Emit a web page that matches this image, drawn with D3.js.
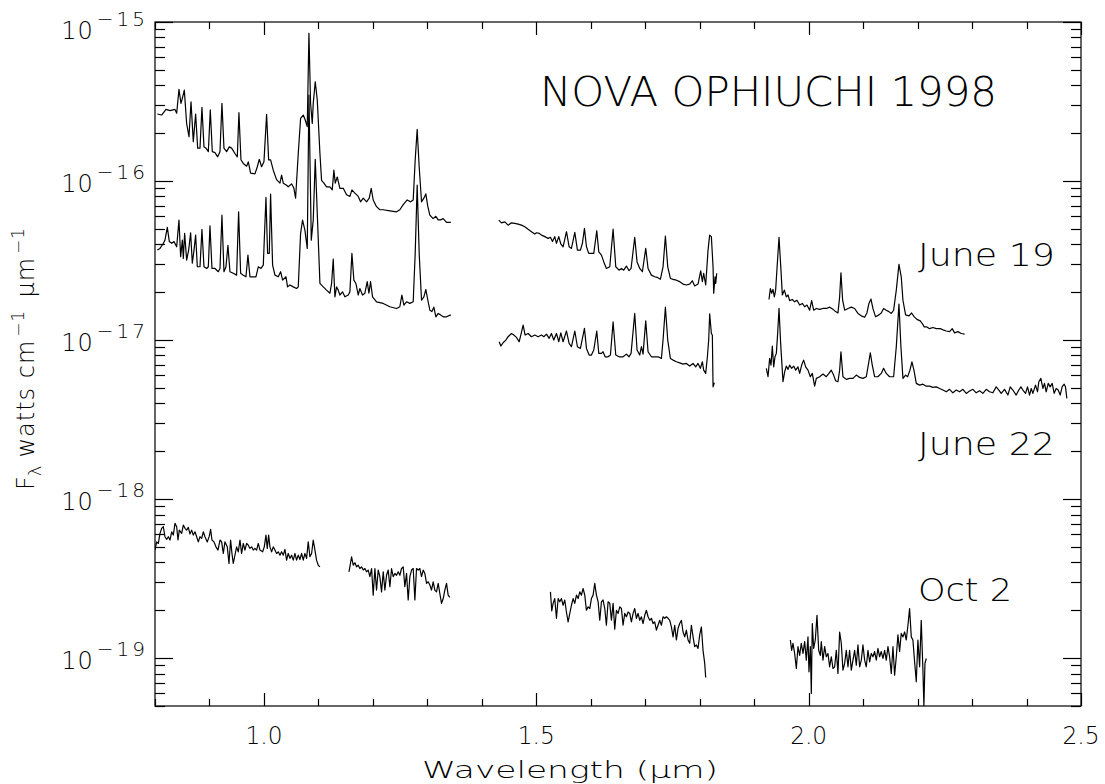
<!DOCTYPE html>
<html><head><meta charset="utf-8">
<script src="https://cdn.jsdelivr.net/npm/d3@7"></script>
<style>
body{margin:0;background:#fff;}
svg{display:block;background:#fff;}
text{font-family:"DejaVu Sans","Liberation Sans",sans-serif;font-weight:200;fill:#000;}
</style></head><body>
<svg id="chart" width="1105" height="784"></svg>
<script>
// ---------------- data (wavelength in micron, F_lambda in W cm^-1 um^-1) ----------------
const titleText = "NOVA OPHIUCHI 1998";
const epochLabels = ["June 19", "June 22", "Oct 2"];
const xTickValues = [1.0, 1.5, 2.0, 2.5];
const xTickLabels = ["1.0", "1.5", "2.0", "2.5"];
const yTickExponents = [-19, -18, -17, -16, -15];
const xDomain = [0.8, 2.5];
const yDomain = [5e-20, 1e-15];

const june19_J = [[0.8043,2.64e-16],[0.8122,2.60e-16],[0.8202,2.82e-16],[0.8275,2.77e-16],[0.8367,2.82e-16],[0.8398,2.67e-16],[0.8440,3.77e-16],[0.8477,3.08e-16],[0.8502,3.31e-16],[0.8538,3.73e-16],[0.8581,2.30e-16],[0.8624,1.90e-16],[0.8661,3.15e-16],[0.8703,1.77e-16],[0.8746,2.64e-16],[0.8783,1.61e-16],[0.8826,1.61e-16],[0.8862,2.91e-16],[0.8899,1.64e-16],[0.8936,1.61e-16],[0.8979,1.53e-16],[0.9015,2.80e-16],[0.9052,1.53e-16],[0.9101,1.51e-16],[0.9150,1.42e-16],[0.9193,1.53e-16],[0.9229,3.08e-16],[0.9266,1.61e-16],[0.9315,1.53e-16],[0.9364,1.64e-16],[0.9407,1.61e-16],[0.9468,1.49e-16],[0.9511,1.42e-16],[0.9541,2.69e-16],[0.9578,1.36e-16],[0.9621,1.29e-16],[0.9682,1.24e-16],[0.9713,1.32e-16],[0.9755,1.12e-16],[0.9835,1.11e-16],[0.9878,1.23e-16],[0.9914,1.37e-16],[0.9957,1.23e-16],[1.0000,1.32e-16],[1.0049,2.63e-16],[1.0086,1.36e-16],[1.0122,1.36e-16],[1.0171,1.17e-16],[1.0232,1.02e-16],[1.0294,9.7e-17],[1.0324,1.09e-16],[1.0355,9.7e-17],[1.0416,9.4e-17],[1.0446,9.2e-17],[1.0508,9.6e-17],[1.0550,9.0e-17],[1.0581,7.8e-17],[1.0630,1.49e-16],[1.0673,2.48e-16],[1.0722,2.60e-16],[1.0758,2.42e-16],[1.0795,2.20e-16],[1.0826,8.5e-16],[1.0856,3.08e-16],[1.0887,2.30e-16],[1.0905,3.08e-16],[1.0942,4.21e-16],[1.0979,3.23e-16],[1.1028,1.49e-16],[1.1058,1.01e-16],[1.1101,9.7e-17],[1.1150,9.2e-17],[1.1211,9.2e-17],[1.1254,8.8e-17],[1.1284,1.17e-16],[1.1309,9.7e-17],[1.1346,1.06e-16],[1.1394,9.0e-17],[1.1456,9.0e-17],[1.1517,8.2e-17],[1.1578,8.0e-17],[1.1615,8.8e-17],[1.1670,8.4e-17],[1.1731,8.0e-17],[1.1774,7.4e-17],[1.1823,7.8e-17],[1.1884,7.4e-17],[1.1933,7.8e-17],[1.1969,9.0e-17],[1.2006,7.6e-17],[1.2067,6.9e-17],[1.2128,6.6e-17],[1.2190,6.6e-17],[1.2312,6.5e-17],[1.2434,6.4e-17],[1.2495,6.6e-17],[1.2557,7.1e-17],[1.2630,7.6e-17],[1.2691,7.4e-17],[1.2740,7.6e-17],[1.2777,1.36e-16],[1.2813,2.11e-16],[1.2850,1.23e-16],[1.2893,7.4e-17],[1.2936,7.8e-17],[1.2972,8.3e-17],[1.3009,6.9e-17],[1.3046,6.1e-17],[1.3107,5.8e-17],[1.3156,6.0e-17],[1.3199,5.7e-17],[1.3242,5.7e-17],[1.3291,5.8e-17],[1.3352,5.5e-17],[1.3431,5.5e-17]];

const june19_H = [[1.4312,5.68e-17],[1.4361,5.46e-17],[1.4422,5.54e-17],[1.4483,5.28e-17],[1.4544,5.46e-17],[1.4606,5.41e-17],[1.4667,5.36e-17],[1.4728,5.28e-17],[1.4789,5.16e-17],[1.4850,4.97e-17],[1.4911,4.80e-17],[1.4973,4.64e-17],[1.5003,4.73e-17],[1.5052,4.69e-17],[1.5095,4.57e-17],[1.5156,4.47e-17],[1.5217,4.36e-17],[1.5260,4.43e-17],[1.5297,4.16e-17],[1.5339,4.47e-17],[1.5370,4.06e-17],[1.5413,4.47e-17],[1.5450,4.02e-17],[1.5492,3.86e-17],[1.5554,4.80e-17],[1.5603,3.86e-17],[1.5645,3.77e-17],[1.5707,4.76e-17],[1.5755,3.68e-17],[1.5810,3.68e-17],[1.5847,4.06e-17],[1.5884,5.04e-17],[1.5921,3.86e-17],[1.5963,3.51e-17],[1.6012,3.51e-17],[1.6055,3.51e-17],[1.6110,4.87e-17],[1.6147,3.59e-17],[1.6196,3.42e-17],[1.6239,3.10e-17],[1.6287,2.82e-17],[1.6349,2.89e-17],[1.6410,4.98e-17],[1.6459,2.89e-17],[1.6520,2.75e-17],[1.6563,2.82e-17],[1.6605,2.75e-17],[1.6654,2.92e-17],[1.6703,2.73e-17],[1.6740,2.82e-17],[1.6807,4.43e-17],[1.6850,3.10e-17],[1.6899,2.82e-17],[1.6948,2.69e-17],[1.7009,3.77e-17],[1.7052,2.82e-17],[1.7113,2.56e-17],[1.7174,2.50e-17],[1.7217,2.48e-17],[1.7278,2.41e-17],[1.7327,2.89e-17],[1.7370,4.51e-17],[1.7413,2.89e-17],[1.7462,2.44e-17],[1.7511,2.41e-17],[1.7572,2.38e-17],[1.7633,2.33e-17],[1.7694,2.25e-17],[1.7754,2.22e-17],[1.7816,2.25e-17],[1.7865,2.36e-17],[1.7908,2.19e-17],[1.7969,2.25e-17],[1.8018,2.72e-17],[1.8049,2.33e-17],[1.8073,2.63e-17],[1.8110,2.22e-17],[1.8153,3.68e-17],[1.8183,4.57e-17],[1.8214,4.47e-17],[1.8245,2.89e-17],[1.8257,1.97e-17],[1.8282,2.50e-17],[1.8294,2.27e-17],[1.8312,2.63e-17]];

const june19_K = [[1.9272,1.80e-17],[1.9297,2.11e-17],[1.9321,1.97e-17],[1.9346,2.08e-17],[1.9370,1.87e-17],[1.9394,2.06e-17],[1.9419,2.82e-17],[1.9456,4.43e-17],[1.9492,2.75e-17],[1.9517,1.92e-17],[1.9554,2.06e-17],[1.9590,1.87e-17],[1.9621,1.92e-17],[1.9651,1.77e-17],[1.9700,1.80e-17],[1.9743,1.74e-17],[1.9786,1.78e-17],[1.9835,1.66e-17],[1.9884,1.70e-17],[1.9927,1.62e-17],[1.9969,1.66e-17],[2.0018,1.54e-17],[2.0055,1.77e-17],[2.0092,1.54e-17],[2.0141,1.58e-17],[2.0202,1.56e-17],[2.0263,1.58e-17],[2.0324,1.58e-17],[2.0385,1.61e-17],[2.0447,1.56e-17],[2.0495,1.51e-17],[2.0538,1.48e-17],[2.0569,1.87e-17],[2.0593,2.65e-17],[2.0624,1.78e-17],[2.0661,1.54e-17],[2.0722,1.58e-17],[2.0783,1.61e-17],[2.0844,1.58e-17],[2.0905,1.47e-17],[2.0966,1.42e-17],[2.1028,1.39e-17],[2.1070,1.48e-17],[2.1107,1.70e-17],[2.1144,1.81e-17],[2.1180,1.58e-17],[2.1229,1.40e-17],[2.1291,1.44e-17],[2.1333,1.48e-17],[2.1376,1.58e-17],[2.1425,1.54e-17],[2.1474,1.51e-17],[2.1517,1.47e-17],[2.1560,1.54e-17],[2.1609,2.06e-17],[2.1658,2.99e-17],[2.1700,2.50e-17],[2.1731,1.78e-17],[2.1780,1.44e-17],[2.1841,1.42e-17],[2.1890,1.48e-17],[2.1939,1.40e-17],[2.1988,1.35e-17],[2.2049,1.32e-17],[2.2086,1.27e-17],[2.2122,1.21e-17],[2.2171,1.21e-17],[2.2220,1.18e-17],[2.2281,1.20e-17],[2.2343,1.18e-17],[2.2416,1.18e-17],[2.2465,1.16e-17],[2.2526,1.14e-17],[2.2587,1.13e-17],[2.2636,1.18e-17],[2.2679,1.11e-17],[2.2740,1.13e-17],[2.2801,1.10e-17],[2.2863,1.09e-17]];

const june22_J = [[0.8043,3.68e-17],[0.8092,3.77e-17],[0.8153,4.06e-17],[0.8183,4.25e-17],[0.8226,5.11e-17],[0.8263,4.16e-17],[0.8306,4.06e-17],[0.8349,4.16e-17],[0.8398,3.86e-17],[0.8440,5.68e-17],[0.8471,3.34e-17],[0.8502,4.25e-17],[0.8520,3.26e-17],[0.8544,4.69e-17],[0.8581,3.18e-17],[0.8618,3.68e-17],[0.8654,4.73e-17],[0.8685,3.04e-17],[0.8716,3.68e-17],[0.8746,4.57e-17],[0.8777,2.89e-17],[0.8826,2.89e-17],[0.8862,4.96e-17],[0.8899,2.89e-17],[0.8948,2.82e-17],[0.8979,2.89e-17],[0.9009,5.23e-17],[0.9046,2.82e-17],[0.9101,2.82e-17],[0.9162,2.69e-17],[0.9193,2.82e-17],[0.9229,6.10e-17],[0.9266,2.69e-17],[0.9303,2.89e-17],[0.9339,3.94e-17],[0.9376,2.69e-17],[0.9437,2.63e-17],[0.9498,2.56e-17],[0.9535,6.41e-17],[0.9572,2.63e-17],[0.9621,2.56e-17],[0.9670,2.50e-17],[0.9706,3.42e-17],[0.9743,2.50e-17],[0.9804,2.50e-17],[0.9853,2.50e-17],[0.9896,2.89e-17],[0.9945,2.82e-17],[0.9988,2.96e-17],[1.0037,7.89e-17],[1.0067,3.51e-17],[1.0098,3.51e-17],[1.0122,8.29e-17],[1.0159,2.96e-17],[1.0202,2.56e-17],[1.0263,2.50e-17],[1.0306,2.69e-17],[1.0343,2.38e-17],[1.0404,2.50e-17],[1.0434,2.16e-17],[1.0477,2.22e-17],[1.0538,2.16e-17],[1.0599,2.11e-17],[1.0630,2.16e-17],[1.0673,4.69e-17],[1.0709,5.68e-17],[1.0752,4.91e-17],[1.0795,3.77e-17],[1.0826,3.47e-16],[1.0869,4.25e-17],[1.0905,5.68e-17],[1.0942,1.37e-16],[1.0979,6.26e-17],[1.1028,2.27e-17],[1.1089,2.16e-17],[1.1150,2.06e-17],[1.1211,1.97e-17],[1.1242,2.27e-17],[1.1272,3.23e-17],[1.1303,1.87e-17],[1.1333,2.16e-17],[1.1364,2.06e-17],[1.1394,1.92e-17],[1.1443,2.01e-17],[1.1486,1.87e-17],[1.1547,1.92e-17],[1.1578,2.01e-17],[1.1615,3.51e-17],[1.1651,2.38e-17],[1.1688,2.27e-17],[1.1731,1.92e-17],[1.1761,2.11e-17],[1.1810,1.92e-17],[1.1853,1.97e-17],[1.1896,2.33e-17],[1.1927,1.97e-17],[1.1957,2.33e-17],[1.1994,1.87e-17],[1.2067,1.74e-17],[1.2190,1.70e-17],[1.2312,1.62e-17],[1.2434,1.58e-17],[1.2495,1.62e-17],[1.2532,1.92e-17],[1.2569,1.66e-17],[1.2618,1.74e-17],[1.2679,1.70e-17],[1.2740,1.74e-17],[1.2777,3.51e-17],[1.2813,9.42e-17],[1.2850,3.51e-17],[1.2893,1.78e-17],[1.2936,1.87e-17],[1.2972,2.08e-17],[1.3009,1.78e-17],[1.3046,1.54e-17],[1.3083,1.51e-17],[1.3119,1.61e-17],[1.3156,1.40e-17],[1.3199,1.47e-17],[1.3242,1.44e-17],[1.3291,1.40e-17],[1.3352,1.40e-17],[1.3431,1.44e-17]];

const june22_H = [[1.4318,9.76e-18],[1.4349,9.17e-18],[1.4390,9.62e-18],[1.4440,1.00e-17],[1.4483,1.05e-17],[1.4544,1.10e-17],[1.4587,1.075e-17],[1.4636,1.04e-17],[1.4685,9.76e-18],[1.4716,1.075e-17],[1.4758,1.24e-17],[1.4795,1.075e-17],[1.4850,1.10e-17],[1.4911,1.05e-17],[1.4973,1.075e-17],[1.5034,1.05e-17],[1.5095,1.075e-17],[1.5138,1.05e-17],[1.5187,1.09e-17],[1.5236,1.025e-17],[1.5278,1.10e-17],[1.5321,1.00e-17],[1.5370,1.10e-17],[1.5413,9.76e-18],[1.5450,1.11e-17],[1.5492,9.76e-18],[1.5554,1.14e-17],[1.5603,9.53e-18],[1.5645,9.08e-18],[1.5707,1.14e-17],[1.5755,9.08e-18],[1.5810,8.86e-18],[1.5884,1.185e-17],[1.5921,8.86e-18],[1.5970,8.05e-18],[1.6012,8.05e-18],[1.6055,8.65e-18],[1.6110,1.14e-17],[1.6147,8.25e-18],[1.6196,8.25e-18],[1.6226,8.44e-18],[1.6263,7.85e-18],[1.6318,7.85e-18],[1.6361,8.05e-18],[1.6410,1.30e-17],[1.6459,8.05e-18],[1.6520,7.85e-18],[1.6593,7.85e-18],[1.6654,8.16e-18],[1.6703,7.85e-18],[1.6740,8.25e-18],[1.6807,1.47e-17],[1.6850,8.65e-18],[1.6899,8.05e-18],[1.6930,9.08e-18],[1.6960,8.16e-18],[1.7009,1.32e-17],[1.7052,8.44e-18],[1.7113,7.85e-18],[1.7174,7.85e-18],[1.7236,7.85e-18],[1.7297,7.67e-18],[1.7327,1.00e-17],[1.7370,1.61e-17],[1.7413,1.00e-17],[1.7462,7.67e-18],[1.7511,7.48e-18],[1.7572,7.30e-18],[1.7633,7.19e-18],[1.7694,7.06e-18],[1.7754,7.13e-18],[1.7816,6.86e-18],[1.7878,7.13e-18],[1.7927,6.79e-18],[1.7969,7.13e-18],[1.8012,6.64e-18],[1.8049,7.30e-18],[1.8073,6.47e-18],[1.8110,6.17e-18],[1.8141,7.85e-18],[1.8165,1.00e-17],[1.8183,1.46e-17],[1.8214,1.10e-17],[1.8232,1.075e-17],[1.8245,5.08e-18],[1.8269,5.39e-18]];

const june22_K = [[1.9223,6.64e-18],[1.9254,5.88e-18],[1.9284,7.67e-18],[1.9309,6.96e-18],[1.9333,9.17e-18],[1.9358,6.79e-18],[1.9382,7.85e-18],[1.9407,8.25e-18],[1.9431,1.10e-17],[1.9456,1.58e-17],[1.9486,9.53e-18],[1.9529,5.47e-18],[1.9560,6.32e-18],[1.9590,6.86e-18],[1.9621,6.54e-18],[1.9651,6.96e-18],[1.9688,6.64e-18],[1.9725,6.86e-18],[1.9762,6.47e-18],[1.9804,6.79e-18],[1.9835,6.17e-18],[1.9872,6.96e-18],[1.9908,7.48e-18],[1.9945,6.79e-18],[1.9988,6.47e-18],[2.0031,5.88e-18],[2.0067,6.17e-18],[2.0110,5.13e-18],[2.0141,5.74e-18],[2.0202,5.88e-18],[2.0263,6.11e-18],[2.0324,5.88e-18],[2.0373,6.17e-18],[2.0415,6.47e-18],[2.0459,6.02e-18],[2.0495,5.55e-18],[2.0538,5.47e-18],[2.0569,6.47e-18],[2.0593,8.44e-18],[2.0630,5.88e-18],[2.0691,5.66e-18],[2.0752,5.74e-18],[2.0814,5.74e-18],[2.0875,6.02e-18],[2.0936,5.82e-18],[2.0997,5.74e-18],[2.1058,5.88e-18],[2.1095,6.96e-18],[2.1132,8.32e-18],[2.1168,6.96e-18],[2.1211,5.88e-18],[2.1272,5.88e-18],[2.1333,6.17e-18],[2.1376,6.64e-18],[2.1425,6.17e-18],[2.1486,5.88e-18],[2.1560,5.88e-18],[2.1609,9.08e-18],[2.1658,1.684e-17],[2.1694,9.08e-18],[2.1731,5.74e-18],[2.1780,6.02e-18],[2.1817,5.88e-18],[2.1860,6.47e-18],[2.1896,7.30e-18],[2.1933,6.47e-18],[2.1976,5.34e-18],[2.2037,5.21e-18],[2.2098,5.28e-18],[2.2159,5.13e-18],[2.2220,5.13e-18],[2.2281,5.04e-18],[2.2343,5.08e-18],[2.2404,4.96e-18],[2.2465,4.85e-18],[2.2526,4.73e-18],[2.2587,4.90e-18],[2.2648,4.66e-18],[2.2710,4.85e-18],[2.2771,4.73e-18],[2.2832,4.90e-18],[2.2893,4.62e-18],[2.2954,4.78e-18],[2.3015,4.90e-18],[2.3076,4.66e-18],[2.3138,4.80e-18],[2.3199,4.62e-18],[2.3260,4.90e-18],[2.3321,4.73e-18],[2.3382,4.66e-18],[2.3443,5.08e-18],[2.3492,4.85e-18],[2.3535,4.62e-18],[2.3596,4.90e-18],[2.3658,4.51e-18],[2.3700,5.08e-18],[2.3749,4.85e-18],[2.3810,4.51e-18],[2.3859,4.85e-18],[2.3896,5.08e-18],[2.3933,4.85e-18],[2.3982,4.62e-18],[2.4018,5.08e-18],[2.4055,4.51e-18],[2.4086,4.96e-18],[2.4116,4.62e-18],[2.4165,5.21e-18],[2.4202,4.73e-18],[2.4226,5.47e-18],[2.4263,5.74e-18],[2.4300,4.96e-18],[2.4330,5.34e-18],[2.4361,4.73e-18],[2.4398,5.34e-18],[2.4434,5.08e-18],[2.4471,5.34e-18],[2.4508,4.62e-18],[2.4544,4.96e-18],[2.4581,4.85e-18],[2.4618,4.51e-18],[2.4654,5.08e-18],[2.4691,5.28e-18],[2.4715,5.08e-18],[2.4740,4.30e-18]];

const oct2_a = [[0.8000,4.78e-19],[0.8031,5.38e-19],[0.8061,5.26e-19],[0.8092,6.09e-19],[0.8122,6.55e-19],[0.8153,6.70e-19],[0.8183,5.80e-19],[0.8214,5.58e-19],[0.8245,5.80e-19],[0.8275,5.53e-19],[0.8306,6.23e-19],[0.8336,5.94e-19],[0.8367,7.04e-19],[0.8398,6.70e-19],[0.8422,5.53e-19],[0.8446,6.38e-19],[0.8489,6.09e-19],[0.8520,6.87e-19],[0.8550,6.55e-19],[0.8581,6.38e-19],[0.8612,6.64e-19],[0.8642,6.03e-19],[0.8673,6.38e-19],[0.8703,5.94e-19],[0.8734,6.23e-19],[0.8765,5.80e-19],[0.8795,5.38e-19],[0.8826,5.80e-19],[0.8856,5.66e-19],[0.8887,6.23e-19],[0.8917,5.80e-19],[0.8960,5.38e-19],[0.8997,5.85e-19],[0.9021,6.45e-19],[0.9046,5.53e-19],[0.9083,5.38e-19],[0.9119,5.01e-19],[0.9156,4.78e-19],[0.9193,5.53e-19],[0.9223,5.38e-19],[0.9254,4.55e-19],[0.9284,5.38e-19],[0.9327,5.01e-19],[0.9358,3.94e-19],[0.9388,5.53e-19],[0.9413,4.55e-19],[0.9437,3.94e-19],[0.9462,4.34e-19],[0.9498,5.01e-19],[0.9529,4.66e-19],[0.9560,5.53e-19],[0.9590,4.55e-19],[0.9621,5.26e-19],[0.9651,4.78e-19],[0.9682,5.26e-19],[0.9713,5.13e-19],[0.9743,4.90e-19],[0.9774,5.01e-19],[0.9804,4.78e-19],[0.9835,4.90e-19],[0.9865,4.78e-19],[0.9896,5.26e-19],[0.9927,4.78e-19],[0.9976,4.66e-19],[1.0006,5.01e-19],[1.0037,5.94e-19],[1.0061,4.90e-19],[1.0086,5.94e-19],[1.0110,5.01e-19],[1.0141,4.66e-19],[1.0171,5.01e-19],[1.0202,4.78e-19],[1.0232,4.55e-19],[1.0263,4.66e-19],[1.0294,4.44e-19],[1.0324,4.66e-19],[1.0355,4.44e-19],[1.0385,4.83e-19],[1.0416,4.13e-19],[1.0446,4.55e-19],[1.0477,4.24e-19],[1.0508,4.44e-19],[1.0538,4.13e-19],[1.0569,4.55e-19],[1.0599,4.13e-19],[1.0630,4.44e-19],[1.0661,4.17e-19],[1.0691,4.55e-19],[1.0722,4.13e-19],[1.0752,4.55e-19],[1.0783,4.24e-19],[1.0813,5.38e-19],[1.0844,4.34e-19],[1.0875,4.55e-19],[1.0905,5.53e-19],[1.0936,4.78e-19],[1.0966,4.13e-19],[1.0997,3.84e-19],[1.1028,3.75e-19]];

const oct2_b = [[1.1560,3.49e-19],[1.1578,3.75e-19],[1.1609,4.34e-19],[1.1639,3.84e-19],[1.1670,3.98e-19],[1.1700,3.75e-19],[1.1731,3.84e-19],[1.1761,3.66e-19],[1.1792,3.75e-19],[1.1823,3.58e-19],[1.1853,3.66e-19],[1.1884,3.49e-19],[1.1914,3.58e-19],[1.1945,3.25e-19],[1.1976,3.66e-19],[1.2006,2.49e-19],[1.2037,3.66e-19],[1.2067,2.68e-19],[1.2098,3.58e-19],[1.2128,3.25e-19],[1.2159,2.61e-19],[1.2190,3.49e-19],[1.2220,2.68e-19],[1.2251,3.32e-19],[1.2281,3.58e-19],[1.2312,2.81e-19],[1.2343,3.66e-19],[1.2373,3.25e-19],[1.2404,3.41e-19],[1.2434,3.32e-19],[1.2465,3.49e-19],[1.2495,3.32e-19],[1.2526,3.66e-19],[1.2557,3.75e-19],[1.2587,2.81e-19],[1.2618,3.41e-19],[1.2648,2.32e-19],[1.2679,3.25e-19],[1.2710,3.58e-19],[1.2740,3.66e-19],[1.2771,2.32e-19],[1.2801,3.66e-19],[1.2832,3.58e-19],[1.2862,3.66e-19],[1.2893,3.25e-19],[1.2924,3.58e-19],[1.2954,3.41e-19],[1.2985,2.95e-19],[1.3015,3.02e-19],[1.3046,2.88e-19],[1.3076,2.68e-19],[1.3107,3.02e-19],[1.3138,2.68e-19],[1.3168,2.61e-19],[1.3199,2.95e-19],[1.3229,2.55e-19],[1.3260,2.21e-19],[1.3291,2.37e-19],[1.3321,2.68e-19],[1.3352,2.95e-19],[1.3382,2.49e-19],[1.3413,2.41e-19]];

const oct2_c = [[1.5260,2.61e-19],[1.5284,1.98e-19],[1.5309,2.21e-19],[1.5339,2.37e-19],[1.5370,1.78e-19],[1.5401,2.37e-19],[1.5431,2.26e-19],[1.5462,2.37e-19],[1.5492,2.15e-19],[1.5523,2.32e-19],[1.5553,1.95e-19],[1.5584,1.69e-19],[1.5615,1.91e-19],[1.5645,2.15e-19],[1.5676,2.37e-19],[1.5706,2.21e-19],[1.5737,2.49e-19],[1.5768,2.37e-19],[1.5798,2.61e-19],[1.5829,2.49e-19],[1.5859,2.74e-19],[1.5890,2.49e-19],[1.5920,2.00e-19],[1.5951,2.10e-19],[1.5982,2.05e-19],[1.6012,2.37e-19],[1.6043,2.49e-19],[1.6073,2.95e-19],[1.6104,2.49e-19],[1.6135,2.26e-19],[1.6165,1.73e-19],[1.6196,2.26e-19],[1.6226,2.32e-19],[1.6257,2.05e-19],[1.6287,1.61e-19],[1.6318,2.26e-19],[1.6349,2.21e-19],[1.6379,1.73e-19],[1.6410,2.21e-19],[1.6440,1.52e-19],[1.6471,2.00e-19],[1.6502,1.91e-19],[1.6532,2.10e-19],[1.6563,2.05e-19],[1.6593,1.61e-19],[1.6624,1.91e-19],[1.6654,1.82e-19],[1.6685,1.95e-19],[1.6716,1.91e-19],[1.6746,1.69e-19],[1.6777,1.91e-19],[1.6807,2.05e-19],[1.6838,1.78e-19],[1.6868,1.91e-19],[1.6899,1.73e-19],[1.6930,1.82e-19],[1.6960,1.65e-19],[1.6991,1.86e-19],[1.7021,2.00e-19],[1.7052,1.82e-19],[1.7083,1.73e-19],[1.7113,1.78e-19],[1.7144,1.65e-19],[1.7174,1.69e-19],[1.7205,1.50e-19],[1.7235,1.61e-19],[1.7266,1.73e-19],[1.7297,1.61e-19],[1.7327,1.82e-19],[1.7358,1.78e-19],[1.7388,1.82e-19],[1.7419,1.78e-19],[1.7450,1.73e-19],[1.7480,1.57e-19],[1.7511,1.36e-19],[1.7541,1.61e-19],[1.7572,1.30e-19],[1.7603,1.54e-19],[1.7633,1.65e-19],[1.7664,1.73e-19],[1.7694,1.46e-19],[1.7725,1.36e-19],[1.7755,1.50e-19],[1.7786,1.30e-19],[1.7817,1.24e-19],[1.7847,1.61e-19],[1.7878,1.36e-19],[1.7908,1.18e-19],[1.7939,1.21e-19],[1.7969,1.15e-19],[1.8000,1.40e-19],[1.8031,1.57e-19],[1.8061,1.12e-19],[1.8092,9.26e-20],[1.8110,7.56e-20]];

const oct2_d = [[1.9664,1.30e-19],[1.9688,1.12e-19],[1.9712,1.24e-19],[1.9743,1.07e-19],[1.9774,8.61e-20],[1.9804,1.18e-19],[1.9835,1.04e-19],[1.9865,1.24e-19],[1.9896,1.07e-19],[1.9927,1.27e-19],[1.9957,9.71e-20],[1.9988,1.36e-19],[2.0006,8.20e-20],[2.0031,1.18e-19],[2.0049,6.00e-20],[2.0067,1.65e-19],[2.0092,1.15e-19],[2.0122,1.30e-19],[2.0153,1.86e-19],[2.0184,1.12e-19],[2.0214,1.04e-19],[2.0232,1.27e-19],[2.0263,9.71e-20],[2.0294,1.18e-19],[2.0324,1.02e-19],[2.0355,1.07e-19],[2.0385,8.82e-20],[2.0416,1.02e-19],[2.0447,8.61e-20],[2.0477,8.82e-20],[2.0508,1.12e-19],[2.0538,8.01e-20],[2.0569,1.46e-19],[2.0599,1.24e-19],[2.0630,8.40e-20],[2.0661,9.26e-20],[2.0691,1.12e-19],[2.0722,8.82e-20],[2.0752,1.12e-19],[2.0783,8.40e-20],[2.0814,9.71e-20],[2.0844,1.12e-19],[2.0875,9.04e-20],[2.0905,1.21e-19],[2.0936,8.82e-20],[2.0967,9.71e-20],[2.0997,1.21e-19],[2.1028,9.71e-20],[2.1058,8.82e-20],[2.1089,1.12e-19],[2.1120,9.48e-20],[2.1150,1.07e-19],[2.1181,1.02e-19],[2.1211,1.10e-19],[2.1242,9.71e-20],[2.1272,1.15e-19],[2.1303,1.02e-19],[2.1333,1.10e-19],[2.1364,9.95e-20],[2.1395,1.12e-19],[2.1425,9.71e-20],[2.1456,1.18e-19],[2.1486,1.02e-19],[2.1517,8.01e-20],[2.1548,1.18e-19],[2.1578,7.82e-20],[2.1609,1.02e-19],[2.1639,1.40e-19],[2.1670,1.10e-19],[2.1700,1.43e-19],[2.1731,1.36e-19],[2.1762,1.46e-19],[2.1792,1.30e-19],[2.1823,1.61e-19],[2.1853,2.05e-19],[2.1884,1.36e-19],[2.1914,1.30e-19],[2.1945,9.48e-20],[2.1976,7.10e-20],[2.2006,1.30e-19],[2.2037,8.82e-20],[2.2067,1.73e-19],[2.2098,8.40e-20],[2.2116,5.00e-20],[2.2135,9.26e-20],[2.2160,9.95e-20]];

const segments = [june19_J, june19_H, june19_K, june22_J, june22_H, june22_K, oct2_a, oct2_b, oct2_c, oct2_d];

// ---------------- drawing ----------------
const svg = d3.select("#chart");
const L = 155, R = 1081, T = 22, B = 706;
const x = d3.scaleLinear().domain(xDomain).range([L, R]);
const y = d3.scaleLog().domain(yDomain).range([B, T]);

svg.append("defs").append("clipPath").attr("id","plotclip")
  .append("rect").attr("x",L).attr("y",T).attr("width",R-L).attr("height",B-T);

// spectra
const line = d3.line().x(d => x(d[0])).y(d => y(d[1]));
svg.append("g").attr("clip-path","url(#plotclip)")
  .selectAll("path").data(segments).join("path")
  .attr("d", line).attr("fill","none").attr("stroke","#000")
  .attr("stroke-width",1.2).attr("stroke-linejoin","round");

// frame
const axisG = svg.append("g").attr("stroke","#000").attr("stroke-width",1.2).attr("fill","none");
axisG.append("rect").attr("x",L).attr("y",T).attr("width",R-L).attr("height",B-T);

// x ticks (minor 0.1, major 0.5) on bottom and top, pointing inward
const xMinor = d3.range(8, 26).map(v => v/10);
xMinor.forEach(v => {
  const major = Math.abs(v*2 - Math.round(v*2)) < 1e-6;
  const len = major ? 13 : 7;
  const px = Math.round(x(v)) + 0.5;
  axisG.append("line").attr("x1",px).attr("x2",px).attr("y1",B).attr("y2",B-len);
  axisG.append("line").attr("x1",px).attr("x2",px).attr("y1",T).attr("y2",T+len);
});

// y ticks (major decades, minor 2..9) on left and right
const yTicksAll = [];
for (let e = -20; e <= -15; e++) for (let m = 1; m <= 9; m++) {
  const v = m * Math.pow(10, e);
  if (v >= yDomain[0]*0.999 && v <= yDomain[1]*1.001) yTicksAll.push({v, major: m === 1});
}
yTicksAll.forEach(t => {
  const len = t.major ? 18 : 10;
  const py = Math.round(y(t.v)) + 0.5;
  axisG.append("line").attr("x1",L).attr("x2",L+len).attr("y1",py).attr("y2",py);
  axisG.append("line").attr("x1",R).attr("x2",R-len).attr("y1",py).attr("y2",py);
});

// x tick labels
xTickValues.forEach((v,i) => {
  svg.append("text").attr("x", x(v)).attr("y", 744).attr("text-anchor","middle")
    .attr("font-size",24).attr("textLength",37).attr("lengthAdjust","spacingAndGlyphs")
    .text(xTickLabels[i]);
});

// y tick labels 10^e
yTickExponents.forEach(e => {
  const py = y(Math.pow(10, e));
  const base = Math.max(py + 10.5, 39);
  const t = svg.append("text").attr("x", 148).attr("y", base).attr("text-anchor","end");
  t.append("tspan").attr("font-size",24).attr("letter-spacing",1).text("10");
  t.append("tspan").attr("font-size",20).attr("dy",-13).attr("dx",3).attr("letter-spacing",3).text("\u2212" + Math.abs(e));
});

// axis titles
svg.append("text").attr("x", 570).attr("y", 778).attr("text-anchor","middle")
  .attr("font-size",23).attr("textLength",296).attr("lengthAdjust","spacingAndGlyphs")
  .text("Wavelength (\u03bcm)");

const yt = svg.append("text").attr("transform","translate(34,490) rotate(-90)").attr("text-anchor","start");
yt.append("tspan").attr("font-size",24).text("F");
yt.append("tspan").attr("font-size",18).attr("dy",7).text("\u03bb");
yt.append("tspan").attr("font-size",24).attr("dy",-7).attr("dx",8).attr("letter-spacing",1).text("watts cm");
yt.append("tspan").attr("font-size",17).attr("dy",-10).attr("dx",3).attr("letter-spacing",1).text("\u22121");
yt.append("tspan").attr("font-size",24).attr("dy",10).attr("dx",12).attr("letter-spacing",1).text("\u03bcm");
yt.append("tspan").attr("font-size",17).attr("dy",-10).attr("dx",3).attr("letter-spacing",1).text("\u22121");

// title and epoch labels
svg.append("text").attr("x", 540).attr("y", 106).attr("font-size",41)
  .attr("textLength",457).attr("lengthAdjust","spacingAndGlyphs").text(titleText);
const labelPos = [[918,266,137],[918,455,137],[918,601,94]];
epochLabels.forEach((s,i) => {
  svg.append("text").attr("x", labelPos[i][0]).attr("y", labelPos[i][1]).attr("font-size",32)
    .attr("textLength",labelPos[i][2]).attr("lengthAdjust","spacingAndGlyphs").text(s);
});
</script>
</body></html>
